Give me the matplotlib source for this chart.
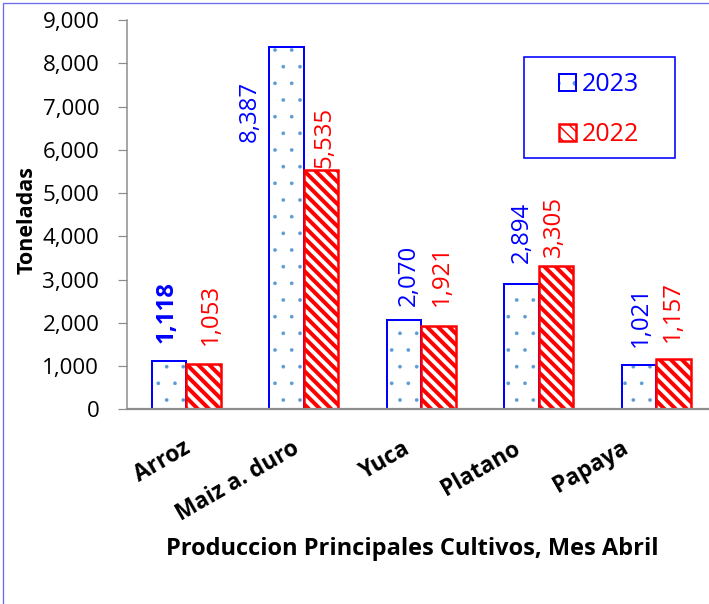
import matplotlib
matplotlib.use("Agg")
import matplotlib.pyplot as plt
import numpy as np
from matplotlib.patches import Rectangle
from matplotlib.legend_handler import HandlerTuple
from matplotlib.ticker import StrMethodFormatter
from matplotlib.transforms import ScaledTranslation

categories = ["Arroz", "Maiz a. duro", "Yuca", "Platano", "Papaya"]
years = ["2023", "2022"]
values_2023 = [1118, 8387, 2070, 2894, 1021]
values_2022 = [1053, 5535, 1921, 3305, 1157]
y_ticks = list(range(0, 9001, 1000))

# data labels were moved by hand in the original, keep their spots (data units)
label_dx_2023 = [-0.17, -0.46, -0.10, -0.14, -0.125]
label_y_2023 = [1527, 6180, 2388, 3382, 1440]
label_dx_2022 = [0.215, 0.176, 0.181, 0.134, 0.139]
label_y_2022 = [1480, 5577, 2388, 3521, 1556]
# category labels drift left of their ticks (pixels)
cat_shift_px = [-4, -12, -18, -26, -35]

DPI = 100


def pt(px):
    # pixels -> points at the save dpi
    return px * 72 / DPI


plt.rcParams['font.family'] = ['Open Sans', 'DejaVu Sans']

BLUE = '#0000FF'
RED = '#FF0000'
DOT = '#5B9BD5'
GREY = '#8C8C8C'

fig = plt.figure(figsize=(709 / DPI, 604 / DPI), dpi=DPI)
ax = fig.add_axes([127.3 / 709, 194.7 / 604, 587.5 / 709, 389.3 / 604])

x = np.arange(len(categories))
w = 0.294

# hatch layer and outline layer drawn separately so the hatch can have its own colour
fill23 = ax.bar(x - w / 2, values_2023, w, color='white', edgecolor=DOT, hatch='.', linewidth=0)
edge23 = ax.bar(x - w / 2, values_2023, w, color='none', edgecolor=BLUE, linewidth=pt(2))
fill22 = ax.bar(x + w / 2, values_2022, w, color='white', edgecolor=RED, hatch='\\\\\\', linewidth=0)
edge22 = ax.bar(x + w / 2, values_2022, w, color='none', edgecolor=RED, linewidth=pt(2.5))

for p in fill22:
    if hasattr(p, 'set_hatch_linewidth'):
        p.set_hatch_linewidth(pt(4))
for p in fill23:
    if hasattr(p, 'set_hatch_linewidth'):
        p.set_hatch_linewidth(pt(0.3))

ax.set_xlim(-0.5, len(categories) - 0.5)
ax.set_ylim(0, 9000)
ax.set_yticks(y_ticks)
ax.yaxis.set_major_formatter(StrMethodFormatter('{x:,.0f}'))

for s in ['top', 'right']:
    ax.spines[s].set_visible(False)
ax.spines['left'].set_color(GREY)
ax.spines['left'].set_linewidth(pt(1.5))
ax.spines['bottom'].set_color(GREY)
ax.spines['bottom'].set_linewidth(pt(2.2))

ax.tick_params(axis='y', direction='out', length=pt(9), width=pt(1.2), color=GREY,
               pad=pt(19), labelsize=pt(22.4), labelcolor='black')
ax.tick_params(axis='x', length=0, pad=pt(27))
ax.set_xticks(x, categories, rotation=30, ha='right', rotation_mode='anchor',
              fontweight='bold', fontsize=pt(22.6))
for lab, dx in zip(ax.get_xticklabels(), cat_shift_px):
    lab.set_transform(lab.get_transform() + ScaledTranslation(dx / DPI, 0, fig.dpi_scale_trans))

# data labels
for i, v in enumerate(values_2023):
    ax.text(x[i] + label_dx_2023[i], label_y_2023[i], f'{v:,}', rotation=90,
            ha='center', va='bottom', color=BLUE, fontsize=pt(24),
            fontweight='bold' if i == 0 else 'normal')
for i, v in enumerate(values_2022):
    ax.text(x[i] + label_dx_2022[i], label_y_2022[i], f'{v:,}', rotation=90,
            ha='center', va='bottom', color=RED, fontsize=pt(24))

ax.set_ylabel('Toneladas', fontweight='bold', fontsize=pt(21.5))
ax.yaxis.set_label_coords(-0.152, 0.486)
ax.set_xlabel('Produccion Principales Cultivos, Mes Abril', fontweight='bold', fontsize=pt(23.6))
ax.xaxis.set_label_coords(0.4846, -0.328)

leg = ax.legend([(fill23[0], edge23[0]), (fill22[0], edge22[0])], years,
                handler_map={tuple: HandlerTuple(ndivide=1)},
                loc='upper left', bbox_to_anchor=(559 / 709, 1 - 72 / 604),
                bbox_transform=fig.transFigure, frameon=False, borderpad=0,
                borderaxespad=0, fontsize=pt(25), handlelength=0.68, handleheight=0.68,
                handletextpad=0.24, labelspacing=1.0)
for t, c in zip(leg.get_texts(), [BLUE, RED]):
    t.set_color(c)

# legend frame and the chart border (only left/top show in the original)
fig.add_artist(Rectangle((524 / 709, 1 - 158 / 604), 151 / 709, 101 / 604,
                         transform=fig.transFigure, fill=False, edgecolor=BLUE, lw=pt(1.6)))
fig.add_artist(Rectangle((2.7 / 709, -0.05), 1.1, (604 - 3.3) / 604 + 0.05,
                         transform=fig.transFigure, fill=False, edgecolor='#6B6BEF', lw=pt(1.3)))

fig.savefig('out.png', dpi=DPI)
